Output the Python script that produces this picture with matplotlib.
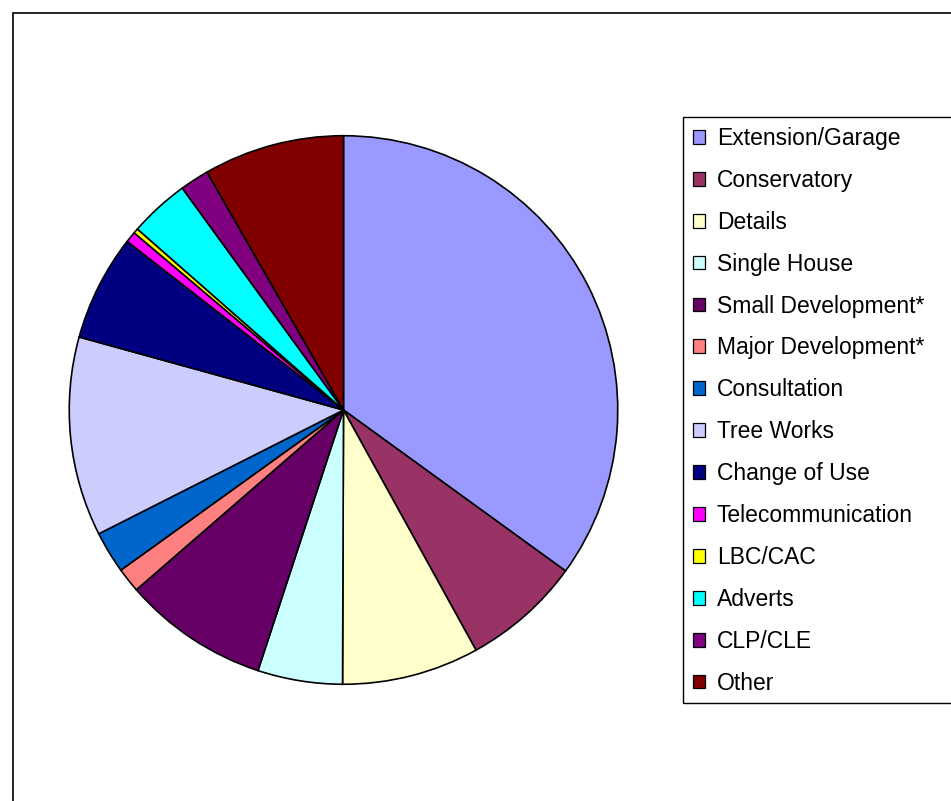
import matplotlib.pyplot as plt
from matplotlib.patches import Rectangle, Patch

plt.rcParams['font.family'] = ['Liberation Sans', 'DejaVu Sans']

# Share of applications by type (%)
categories = ["Extension/Garage", "Conservatory", "Details", "Single House",
              "Small Development*", "Major Development*", "Consultation",
              "Tree Works", "Change of Use", "Telecommunication", "LBC/CAC",
              "Adverts", "CLP/CLE", "Other"]
shares = [34.98, 6.99, 8.08, 4.99, 8.58, 1.45, 2.47,
          11.74, 6.25, 0.64, 0.29, 3.53, 1.71, 8.29]
colors = ["#9999FF", "#993366", "#FFFFCC", "#CCFFFF", "#660066", "#FF8080",
          "#0066CC", "#CCCCFF", "#000080", "#FF00FF", "#FFFF00", "#00FFFF",
          "#800080", "#800000"]

W, H = 951, 801
fig = plt.figure(figsize=(W / 100, H / 100), dpi=100)

# outer chart border (right and bottom edges fall outside the image)
fig.patches.append(Rectangle((13 / W, -0.1), 1.2, 1 - 13 / H + 0.1,
                             transform=fig.transFigure, fill=False,
                             edgecolor="black", linewidth=1.2))

cx, cy, r = 343.5, 410, 277
ax = fig.add_axes([(cx - r) / W, (H - cy - r) / H, 2 * r / W, 2 * r / H])
ax.pie(shares, colors=colors, startangle=90, counterclock=False, radius=1,
       wedgeprops=dict(edgecolor="black", linewidth=1.2))
ax.set_xlim(-1.01, 1.01)
ax.set_ylim(-1.01, 1.01)
ax.axis("off")

# legend frame (runs off the right edge like the original)
fig.patches.append(Rectangle((682.7 / W, 1 - 702.7 / H), 0.4, (702.7 - 116.5) / H,
                             transform=fig.transFigure, fill=False,
                             edgecolor="black", linewidth=1.0))

handles = [Patch(facecolor=c, edgecolor="black", linewidth=0.9) for c in colors]
fig.legend(handles, categories, loc="center left",
           bbox_to_anchor=(692.7 / W, 1 - 410.8 / H), fontsize=16.5,
           frameon=False, handlelength=0.55, handleheight=0.55,
           handletextpad=0.5, labelspacing=0.825, borderpad=0,
           borderaxespad=0)

fig.savefig("out.png", dpi=100, facecolor="white")
